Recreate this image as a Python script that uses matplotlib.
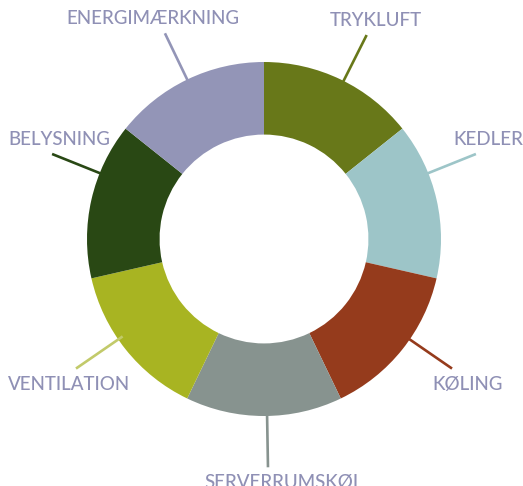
import numpy as np
import matplotlib
matplotlib.use("Agg")
from matplotlib import pyplot as plt

labels = ["TRYKLUFT", "KEDLER", "KØLING", "SERVERRUMSKØL",
          "VENTILATION", "BELYSNING", "ENERGIMÆRKNING"]
values = [1, 1, 1, 1, 1, 1, 1]
colors = ["#687819", "#9dc5c8", "#953b1c", "#87938f",
          "#a8b422", "#294814", "#9395b7"]
line_colors = ["#687819", "#9dc5c8", "#953b1c", "#87938f",
               "#c2ca6a", "#294814", "#9395b7"]

# layout tweaks for leader lines / labels (degrees, axis units)
angle_nudge = [-1, 9, 4, 1, -4, -9, 0]
label_dx = [0.05, 0.07, 0.09, 0.09, -0.04, 0.04, -0.07]

text_color = "#8f90b5"
px = 177.0  # pixels per unit radius
W, H = 523, 486
cx, cy = 264, 239

fig = plt.figure(figsize=(W / 100, H / 100), dpi=100)
ax = fig.add_axes([0, 0, 1, 1])

wedges, _ = ax.pie(values, colors=colors, startangle=90, counterclock=False,
                   radius=1.0, wedgeprops=dict(width=0.41, linewidth=0))
ax.set_xlim(-cx / px, (W - cx) / px)
ax.set_ylim(-(H - cy) / px, cy / px)
ax.set_aspect("auto")
ax.axis("off")

for i, w in enumerate(wedges):
    mid = (w.theta1 + w.theta2) / 2 + angle_nudge[i]
    a = np.deg2rad(mid)
    x0, y0 = 0.97 * np.cos(a), 0.97 * np.sin(a)
    x1, y1 = 1.29 * np.cos(a), 1.29 * np.sin(a)
    ax.plot([x0, x1], [y0, y1], color=line_colors[i], lw=1.9,
            solid_capstyle="butt")
    if y1 > 0:
        ax.text(x1 + label_dx[i], y1 + 0.05, labels[i], ha="center",
                va="baseline", fontsize=13.5, fontweight="medium",
                color=text_color, family="Lato")
    else:
        ax.text(x1 + label_dx[i], y1 - 0.04, labels[i], ha="center",
                va="top", fontsize=13.5, fontweight="medium",
                color=text_color, family="Lato")

fig.savefig("out.png", dpi=100)
